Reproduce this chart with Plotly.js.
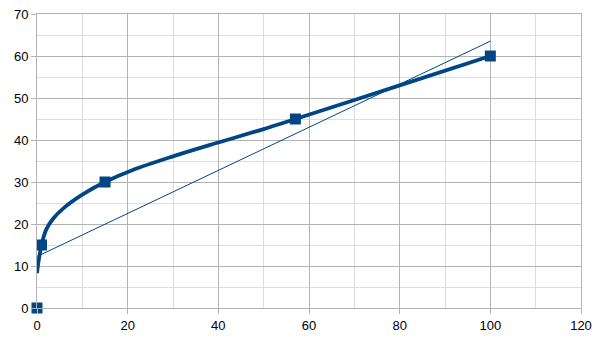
<!DOCTYPE html>
<html>
<head>
<meta charset="utf-8">
<script src="https://cdn.plot.ly/plotly-3.0.1.min.js"></script>
<style>html,body{margin:0;padding:0;background:#fff;}#chart{width:606px;height:341px;}</style>
</head>
<body>
<div id="chart"></div>
<script>
// Data points (squares)
var pointX = [0, 1, 15, 57, 100];
var pointY = [0, 15, 30, 45, 60];

// Smoothed curve, values
var curveX = [0, 0.4, 1, 2, 3.5, 6, 10, 15, 21, 30, 40, 50, 57, 80, 100];
var curveY = [8.3, 11.5, 15, 18.6, 21.2, 23.9, 27, 30, 32.8, 36.1, 39.4, 42.6, 45, 53, 60];

// Axis ticks
var xTicks = [0, 20, 40, 60, 80, 100, 120];
var yTicks = [0, 10, 20, 30, 40, 50, 60, 70];

// Linear trendline computed from the data points (least squares)
var n = pointX.length, mx = 0, my = 0;
for (var i = 0; i < n; i++) { mx += pointX[i]; my += pointY[i]; }
mx /= n; my /= n;
var sxx = 0, sxy = 0;
for (var i = 0; i < n; i++) { sxx += (pointX[i]-mx)*(pointX[i]-mx); sxy += (pointX[i]-mx)*(pointY[i]-my); }
var slope = sxy / sxx, icpt = my - slope * mx;
var trendX = [pointX[0], pointX[n-1]];
var trendY = trendX.map(function(x){ return icpt + slope * x; });

var blue = '#004586';
var traces = [
  {x: trendX, y: trendY, mode: 'lines', line: {color: blue, width: 1}, hoverinfo: 'skip'},
  {x: curveX, y: curveY, mode: 'lines', line: {color: blue, width: 3.8, shape: 'spline', smoothing: 1}, hoverinfo: 'skip'},
  {x: pointX, y: pointY, mode: 'markers', marker: {symbol: 'square', size: 11, color: blue}, cliponaxis: false}
];

var axFont = {family: 'Liberation Sans, Arial, sans-serif', size: 13, color: '#000'};
var layout = {
  width: 606, height: 341,
  margin: {l: 37, r: 25, t: 14, b: 33, pad: 0},
  paper_bgcolor: '#fff', plot_bgcolor: '#fff',
  showlegend: false,
  xaxis: {
    range: [0, 120], tickvals: xTicks, ticktext: xTicks.map(String),
    showgrid: true, gridcolor: '#b3b3b3', gridwidth: 1,
    minor: {dtick: 10, showgrid: true, gridcolor: '#dddddd', gridwidth: 1, ticks: ''},
    showline: true, linecolor: '#b3b3b3', linewidth: 1, mirror: true,
    ticks: 'outside', ticklen: 5, tickcolor: '#b3b3b3', tickfont: axFont,
    zeroline: false, fixedrange: true
  },
  yaxis: {
    range: [0, 70], tickvals: yTicks, ticktext: yTicks.map(String),
    showgrid: true, gridcolor: '#b3b3b3', gridwidth: 1,
    minor: {dtick: 5, showgrid: true, gridcolor: '#dddddd', gridwidth: 1, ticks: ''},
    showline: true, linecolor: '#b3b3b3', linewidth: 1, mirror: true,
    ticks: 'outside', ticklen: 5, tickcolor: '#b3b3b3', tickfont: axFont,
    zeroline: false, fixedrange: true
  }
};

Plotly.newPlot('chart', traces, layout, {displayModeBar: false, staticPlot: true});
</script>
</body>
</html>
